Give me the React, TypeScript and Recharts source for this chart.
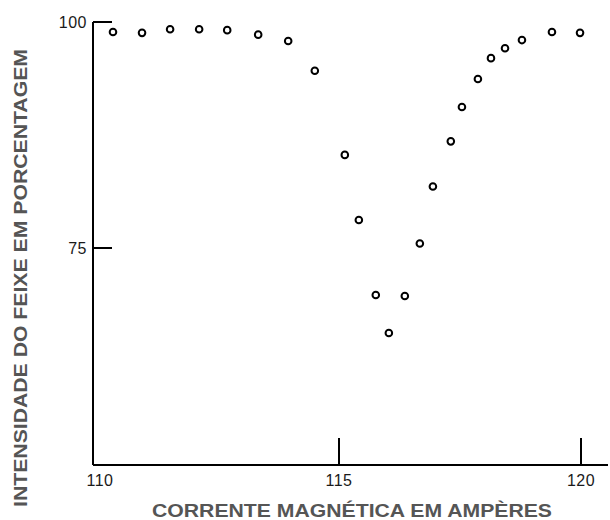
import React from 'react';
import { ScatterChart, Scatter, XAxis, YAxis, Label } from 'recharts';

const currents = [110.33, 110.93, 111.51, 112.11, 112.69, 113.33, 113.95, 114.5, 115.12, 115.41, 115.76, 116.03, 116.36, 116.67, 116.94, 117.31, 117.54, 117.87, 118.14, 118.43, 118.78, 119.4, 119.98];
const intensities = [98.9, 98.8, 99.2, 99.2, 99.1, 98.6, 97.9, 94.6, 85.3, 78.1, 69.8, 65.6, 69.7, 75.5, 81.8, 86.8, 90.6, 93.7, 96.0, 97.1, 98.0, 98.9, 98.8];
const xTicks = [110, 115, 120];
const yTicks = [75, 100];
const xTitle = 'CORRENTE MAGNÉTICA EM AMPÈRES';
const yTitle = 'INTENSIDADE DO FEIXE EM PORCENTAGEM';

const data = currents.map((c, i) => ({ x: c, y: intensities[i] }));

const FONT = 'Liberation Sans, Arial, sans-serif';

const XTick = (props: any) => {
  const { x, y, payload } = props;
  return (
    <g>
      {payload.value !== 110 && (
        <line x1={x} y1={y - 27} x2={x} y2={y} stroke="#000" strokeWidth={2} />
      )}
      <text x={x + (payload.value === 110 ? 3 : 0)} y={y + 21} textAnchor="middle" fontSize={16} letterSpacing={0.5} fill="#1a1a1a" fontFamily={FONT}>
        {payload.value}
      </text>
    </g>
  );
};

const YTick = (props: any) => {
  const { x, y, payload } = props;
  return (
    <g>
      <line x1={x} y1={y} x2={x + 19} y2={y} stroke="#000" strokeWidth={2} />
      <text x={x - 6} y={y + 6} textAnchor="end" fontSize={16} letterSpacing={0.5} fill="#1a1a1a" fontFamily={FONT}>
        {payload.value}
      </text>
    </g>
  );
};

const Ring = (props: any) => {
  const { cx, cy } = props;
  return <circle cx={cx} cy={cy} r={3.3} fill="#fff" stroke="#000" strokeWidth={2} />;
};

export default function App() {
  return (
    <div style={{ position: 'absolute', left: 0, top: 0, width: 610, height: 520, background: '#fff' }}>
      <ScatterChart width={610} height={520} margin={{ top: 22, right: 2, bottom: 25, left: 33 }}>
        <XAxis
          type="number"
          dataKey="x"
          domain={[109.917, 120.558]}
          ticks={xTicks}
          tick={<XTick />}
          tickLine={false}
          tickSize={0}
          tickMargin={0}
          height={30}
          axisLine={{ stroke: '#000', strokeWidth: 2 }}
          allowDataOverflow
        >
          <Label
            content={() => (
              <text
                x={352}
                y={517}
                textAnchor="middle"
                fontSize={19}
                textLength={400}
                lengthAdjust="spacingAndGlyphs"
                fontWeight="bold"
                fill="#555"
                fontFamily={FONT}
              >
                {xTitle}
              </text>
            )}
          />
        </XAxis>
        <YAxis
          type="number"
          dataKey="y"
          domain={[51, 100]}
          ticks={yTicks}
          tick={<YTick />}
          tickLine={false}
          tickSize={0}
          tickMargin={0}
          width={60}
          axisLine={{ stroke: '#000', strokeWidth: 2 }}
          allowDataOverflow
        >
          <Label
            content={() => (
              <text
                x={27}
                y={278}
                transform="rotate(-90 27 278)"
                textAnchor="middle"
                fontSize={19}
                textLength={458}
                lengthAdjust="spacingAndGlyphs"
                fontWeight="bold"
                fill="#555"
                fontFamily={FONT}
              >
                {yTitle}
              </text>
            )}
          />
        </YAxis>
        <Scatter data={data} shape={<Ring />} isAnimationActive={false} />
      </ScatterChart>
    </div>
  );
}
